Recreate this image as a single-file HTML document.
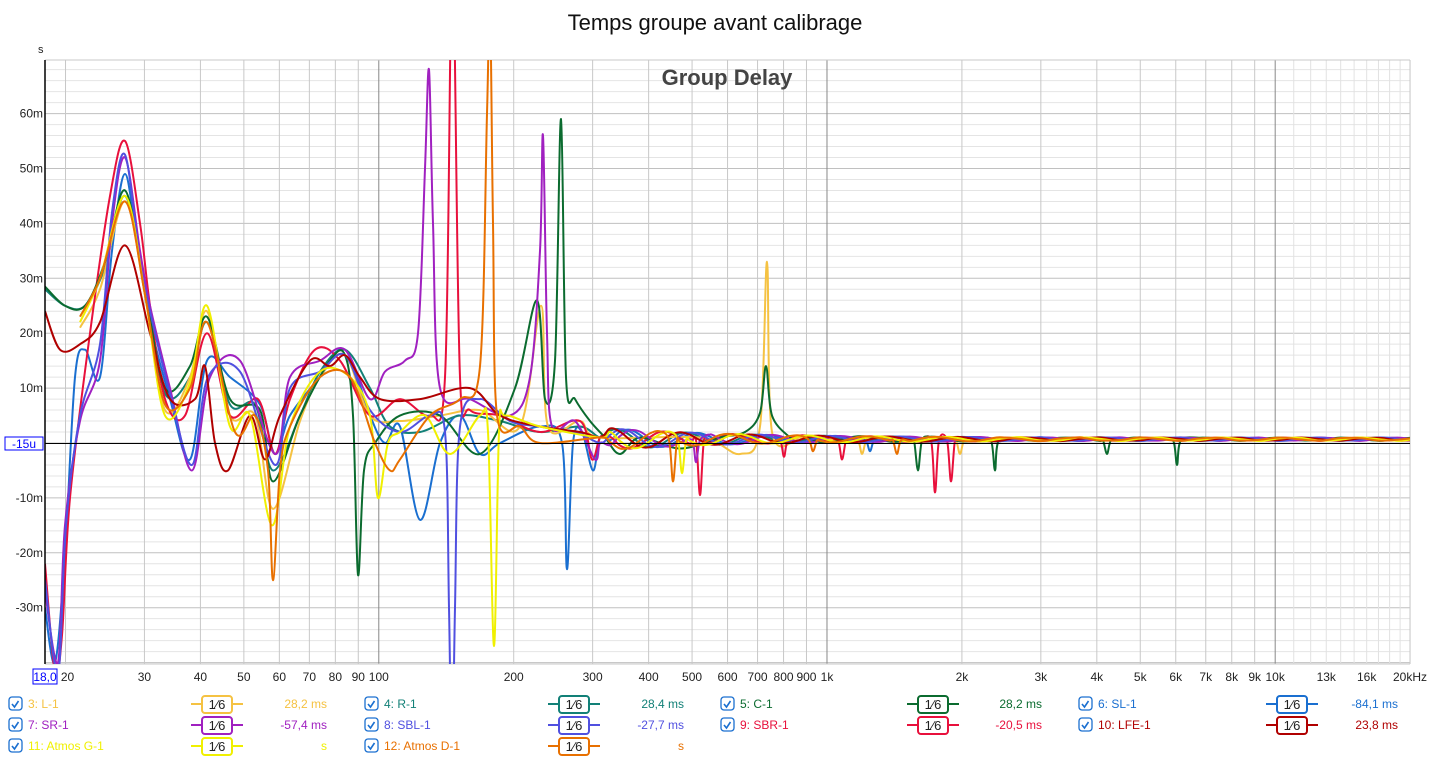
<!DOCTYPE html>
<html><head><meta charset="utf-8"><style>
body{margin:0;background:#fff;width:1431px;height:779px;overflow:hidden;font-family:"Liberation Sans",sans-serif}
svg text{font-family:"Liberation Sans",sans-serif}
</style></head><body>
<svg id="s" width="1431" height="779" xmlns="http://www.w3.org/2000/svg">
<defs><clipPath id="cp"><rect x="45" y="60" width="1365" height="604"/></clipPath></defs>
<text x="715" y="30" font-size="22" text-anchor="middle" fill="#111">Temps groupe avant calibrage</text>
<g id="grid"></g>
<text x="727" y="85" font-size="22" font-weight="bold" text-anchor="middle" fill="#444">Group Delay</text>
<g id="curves" clip-path="url(#cp)" fill="none" stroke-width="2" stroke-linejoin="round"></g>
<line x1="45" y1="60" x2="45" y2="664" stroke="#000" stroke-width="1.5"/>
<line x1="45" y1="443.5" x2="1410" y2="443.5" stroke="#000" stroke-width="1"/>
<g id="lab" font-size="12" fill="#222"></g>
<g id="leg" font-size="12"></g>
</svg>
<script>
const NS="http://www.w3.org/2000/svg";
function el(p,t,a,txt){const e=document.createElementNS(NS,t);for(const k in a)e.setAttribute(k,a[k]);if(txt!==undefined)e.textContent=txt;p.appendChild(e);return e;}
const X=f=>45+448.2*Math.log10(f/18);
const Y=m=>443-m*5.49;
const g=document.getElementById('grid'),lab=document.getElementById('lab');
for(let m=-40;m<=70;m+=2){const y=Y(m);if(y<60||y>664)continue;el(g,'line',{x1:45,x2:1410,y1:y,y2:y,stroke:m%10==0?'#c0c0c0':'#e4e4e4','stroke-width':1});}
const fr=[];for(const d of [10,100,1000,10000])for(let k=1;k<10;k++){const f=d*k;if(f>=20&&f<=20000)fr.push(f);}
for(const f of [11000,12000,13000,14000,15000,16000,17000,18000,19000])fr.push(f);
for(const f of fr){const x=X(f);const maj=(f==100||f==1000||f==10000);el(g,'line',{x1:x,x2:x,y1:60,y2:664,stroke:maj?'#888':(f>10000?'#e2e2e2':'#c8c8c8'),'stroke-width':1});}
el(g,'line',{x1:1410,x2:1410,y1:60,y2:664,stroke:'#c8c8c8'});
el(g,'line',{x1:45,x2:1410,y1:60,y2:60,stroke:'#c8c8c8'});
el(g,'line',{x1:45,x2:1410,y1:664,y2:664,stroke:'#c8c8c8'});
el(lab,'text',{x:38,y:53,'font-size':11},'s');
for(const m of [60,50,40,30,20,10,-10,-20,-30])el(lab,'text',{x:43,y:Y(m)+4,'text-anchor':'end'},m+'m');
el(lab,'rect',{x:5,y:437,width:38,height:13,fill:'#fff',stroke:'#00f'});
el(lab,'text',{x:24,y:448,'text-anchor':'middle',fill:'#00f'},'-15u');
const xl=[[20,'20'],[30,'30'],[40,'40'],[50,'50'],[60,'60'],[70,'70'],[80,'80'],[90,'90'],[100,'100'],[200,'200'],[300,'300'],[400,'400'],[500,'500'],[600,'600'],[700,'700'],[800,'800'],[900,'900'],[1000,'1k'],[2000,'2k'],[3000,'3k'],[4000,'4k'],[5000,'5k'],[6000,'6k'],[7000,'7k'],[8000,'8k'],[9000,'9k'],[10000,'10k'],[13000,'13k'],[16000,'16k']];
for(const [f,t] of xl)el(lab,'text',{x:X(f)+(f==20?2:0),y:681,'text-anchor':'middle'},t);
el(lab,'text',{x:1410,y:681,'text-anchor':'middle'},'20kHz');
el(lab,'rect',{x:33,y:669,width:24,height:15,fill:'#fff',stroke:'#00f'});
el(lab,'text',{x:45,y:681,'text-anchor':'middle',fill:'#00f'},'18,0');
function path(pts){const p=pts.map(([x,m])=>[x,Y(m)]);let d='M'+p[0][0]+','+p[0][1];
for(let i=0;i<p.length-1;i++){const p0=p[i-1]||p[i],p1=p[i],p2=p[i+1],p3=p[i+2]||p2;
let c1x=p1[0]+(p2[0]-p0[0])/6,c1y=p1[1]+(p2[1]-p0[1])/6,c2x=p2[0]-(p3[0]-p1[0])/6,c2y=p2[1]-(p3[1]-p1[1])/6;
c1x=Math.min(Math.max(c1x,p1[0]),p2[0]);c2x=Math.min(Math.max(c2x,p1[0]),p2[0]);
d+=` C${c1x.toFixed(1)},${c1y.toFixed(1)} ${c2x.toFixed(1)},${c2y.toFixed(1)} ${p2[0]},${p2[1]}`;}return d;}
function tail(x0,ph,dips){const pts=[];let x=x0;
while(x<=1420){const amp=0.3+1.8*Math.exp(-Math.max(0,x-600)/130);
let m=0.7+amp*Math.sin(x/11+ph);
let skip=false;for(const [dx] of dips)if(Math.abs(x-dx)<7)skip=true;
if(!skip)pts.push([x,m]);x+=(x<1000?10:20);}
pts.push([1420,0.5]);
for(const [dx,dm] of dips){pts.push([dx-4,0.5],[dx,dm],[dx+4,0.5]);}
pts.sort((a,b)=>a[0]-b[0]);return pts;}
const S=[
['#1a6fd0',[[45,-30],[55,-40],[65,-20],[75,12],[85,17],[100,12],[112,35],[125,49],[138,35],[150,22],[170,8],[190,-3],[207,15],[230,12],[260,7],[275,-2],[290,5],[320,12],[345,17],[370,5],[385,0],[400,3],[420,-14],[440,0],[460,5],[480,-2],[500,0],[540,3],[562,0],[567,-23],[573,0],[582,2],[593,-5],[600,1]],1.0,[[870,-1.5]]],
['#128077',[[45,28],[65,25],[85,25],[105,32],[125,45],[145,28],[165,9],[190,12],[207,22],[230,7],[255,7],[273,-5],[300,5],[320,13],[345,17],[370,10],[390,3],[420,2],[460,5],[500,4],[540,2],[580,3],[600,1]],2.0,[]],
['#f5c242',[[80,21],[100,28],[125,44],[145,27],[165,6],[190,12],[207,24],[230,5],[255,5],[273,-12],[300,4],[320,12],[345,16],[370,5],[400,4],[440,5],[480,6],[520,3],[541,25],[548,3],[580,4],[600,1],[700,1],[740,-2],[760,3],[767,33],[772,2],[800,1]],3.0,[[862,-2],[960,-2]]],
['#e8103c',[[45,-22],[55,-42],[62,-35],[70,-10],[90,20],[110,45],[125,55],[140,40],[150,25],[165,8],[185,5],[207,20],[230,5],[258,8],[275,-2],[290,8],[315,17],[340,15],[370,5],[400,8],[430,5],[445,12],[451,80],[454,80],[460,12],[470,6],[500,5],[540,2],[580,4],[592,-3],[600,1]],4.0,[[700,-9.5],[784,-2.5],[842,-3],[935,-9],[951,-7]]],
['#0b6b2f',[[45,28.5],[65,25],[85,25],[105,33],[125,46],[145,28],[165,10],[190,14],[207,23],[230,8],[260,6],[273,-7],[300,5],[330,15],[345,16],[353,5],[358,-24],[364,-5],[375,0],[400,5],[440,5],[480,-2],[515,10],[537,26],[545,8],[555,15],[561,59],[566,12],[575,8],[590,4],[605,1],[620,-2],[640,1],[680,-1],[720,1],[745,2],[760,5.5],[766,14],[772,5],[790,1],[800,0]],5.0,[[918,-5],[995,-5],[1107,-2],[1177,-4]]],
['#a020c0',[[45,-27],[58,-40],[65,-15],[80,4],[100,15],[112,40],[125,52],[140,35],[150,25],[170,10],[192,-5],[210,12],[240,15],[275,-2],[290,12],[320,15],[345,17],[370,8],[385,13],[405,15],[418,20],[425,50],[429,68],[433,40],[440,10],[470,8],[510,5],[530,12],[540,35],[543,56],[547,20],[552,3],[575,4],[595,-3],[600,0]],0.5,[[696,-3.5]]],
['#5050e0',[[45,-25],[58,-42],[66,-15],[80,5],[100,18],[112,42],[125,52.5],[140,33],[150,24],[170,9],[192,-4],[208,12],[240,13],[275,-4],[290,10],[320,13],[345,16],[370,6],[400,2],[430,5],[445,2],[449,-30],[452,-60],[455,-30],[460,3],[480,8],[510,4],[540,3],[575,2],[600,0]],1.5,[]],
['#b00000',[[45,24],[60,17],[80,18],[100,22],[125,36],[150,20],[170,8],[195,8],[205,14],[215,0],[228,-5],[250,5],[265,-3],[280,5],[310,15],[330,14],[345,16],[360,12],[380,8],[420,8],[470,10],[500,5],[540,3],[580,2],[600,1]],2.5,[]],
['#f0f000',[[80,22],[100,30],[125,45],[145,27],[165,5],[190,11],[207,25],[230,3],[250,5],[272,-15],[290,3],[320,13],[350,12],[370,5],[378,-10],[388,0],[400,2],[425,5],[450,-2],[480,5],[488,2],[494,-37],[499,2],[505,5],[540,3],[600,1]],3.5,[[682,-5.5]]],
['#e87000',[[80,23],[100,30],[125,44],[145,27],[165,7],[190,10],[207,22],[235,2],[255,5],[268,-5],[273,-25],[280,-5],[290,3],[320,12],[350,12],[375,0],[390,-5],[400,-3],[430,5],[460,8],[480,14],[487,60],[490,80],[493,40],[497,5],[520,3],[540,0],[600,1]],4.5,[[673,-7],[813,-1.5],[897,-2]]]
];
const cg=document.getElementById('curves');
S.forEach(([c,p,ph,dips])=>{const last=p[p.length-1][0];const t=tail(last+10,ph,dips).filter(q=>q[0]>last+4);el(cg,'path',{d:path(p.concat(t)),stroke:c});});
const L=document.getElementById('leg');
const items=[
[15,704,'3: L-1','#f5c242','28,2 ms',202,327],
[371,704,'4: R-1','#128077','28,4 ms',559,684],
[727,704,'5: C-1','#0b6b2f','28,2 ms',918,1042],
[1085,704,'6: SL-1','#1a6fd0','-84,1 ms',1277,1398],
[15,725,'7: SR-1','#a020c0','-57,4 ms',202,327],
[371,725,'8: SBL-1','#5050e0','-27,7 ms',559,684],
[727,725,'9: SBR-1','#e8103c','-20,5 ms',918,1042],
[1085,725,'10: LFE-1','#b00000','23,8 ms',1277,1398],
[15,746,'11: Atmos G-1','#f0f000','s',202,327],
[371,746,'12: Atmos D-1','#e87000','s',559,684]];
for(const [x,y,n,c,v,bx,vx] of items){
 el(L,'rect',{x:x-6,y:y-7,width:13,height:13,rx:3,fill:'#fff',stroke:'#1a6fd0','stroke-width':1.3});
 el(L,'path',{d:`M${x-3},${y} l2.5,3 l4,-6`,fill:'none',stroke:'#1a6fd0','stroke-width':1.6});
 el(L,'text',{x:x+13,y:y+4,fill:c},n);
 el(L,'line',{x1:bx-11,x2:bx+41,y1:y,y2:y,stroke:c,'stroke-width':2});
 el(L,'rect',{x:bx,y:y-8,width:30,height:17,rx:3,fill:'#fff',stroke:c,'stroke-width':2});
 el(L,'text',{x:bx+15,y:y+5,'text-anchor':'middle',fill:'#222','font-size':13},'1⁄6');
 el(L,'text',{x:vx,y:y+4,'text-anchor':'end',fill:c},v);
}
</script>
</body></html>
